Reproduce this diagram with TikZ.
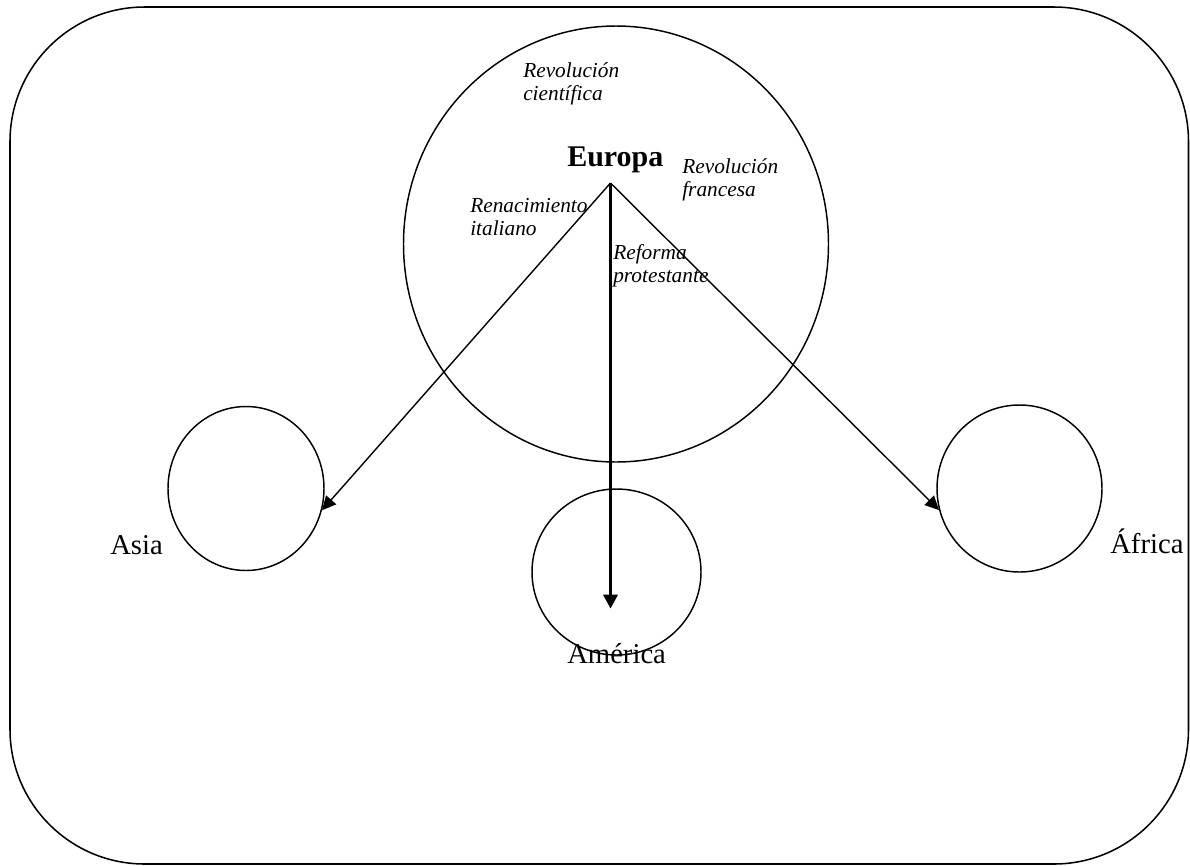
\documentclass[tikz,border=0pt]{standalone}
\usepackage{fontspec}
\setmainfont{Liberation Serif}
\usetikzlibrary{arrows.meta,shapes.geometric}
\begin{document}
\begin{tikzpicture}[x=0.75pt,y=-0.75pt,
  region/.style={draw,ellipse,line width=1.1pt,inner sep=0pt},
  lbl/.style={anchor=base west,inner sep=0pt,font=\fontsize{21.5}{25}\selectfont},
  note/.style={anchor=base west,inner sep=0pt,font=\fontsize{16}{17.6}\selectfont\itshape},
  link/.style={line width=1.05pt,-{Triangle[length=10.5pt,width=10pt]}},
  mainlink/.style={line width=1.6pt,-{Triangle[length=10.5pt,width=11pt]}}]
\useasboundingbox (0,0) rectangle (1190,865);
\draw[line width=1.15pt,rounded corners=101pt] (10,7) rectangle (1188.5,864);
% regions
\node[region,minimum width=318.75pt,minimum height=327pt] (europa) at (616,244) {};
\node[region,minimum width=117pt,minimum height=123pt] (asia) at (246,488.5) {};
\node[region,minimum width=126.75pt,minimum height=124.5pt] (america) at (616.5,572) {};
\node[region,minimum width=123.75pt,minimum height=125.25pt] (africa) at (1019.5,488.5) {};
% labels
\node[lbl,font=\fontsize{22.5}{26}\selectfont\bfseries] (europalbl) at (567,166) {Europa};
\node[lbl] (asialbl) at (110,554) {Asia};
\node[lbl] (americalbl) at (567,663) {América};
\node[lbl] (africalbl) at (1110,553) {África};
\node[note] (rcien) at (523,77) {\begin{tabular}[t]{@{}l@{}}Revolución\\científica\end{tabular}};
\node[note] (rfran) at (682,173) {\begin{tabular}[t]{@{}l@{}}Revolución\\francesa\end{tabular}};
\node[note] (renac) at (470,212) {\begin{tabular}[t]{@{}l@{}}Renacimiento\\italiano\end{tabular}};
\node[note] (refor) at (613,259) {\begin{tabular}[t]{@{}l@{}}Reforma\\protestante\end{tabular}};
% connectors
\coordinate (src) at (610.5,183);
\coordinate (amtip) at (610.5,608.5);
\draw[link] (src) -- (asia.-16);
\draw[mainlink] (src) -- (amtip);
\draw[link] (src) -- (africa.195);
\end{tikzpicture}
\end{document}
